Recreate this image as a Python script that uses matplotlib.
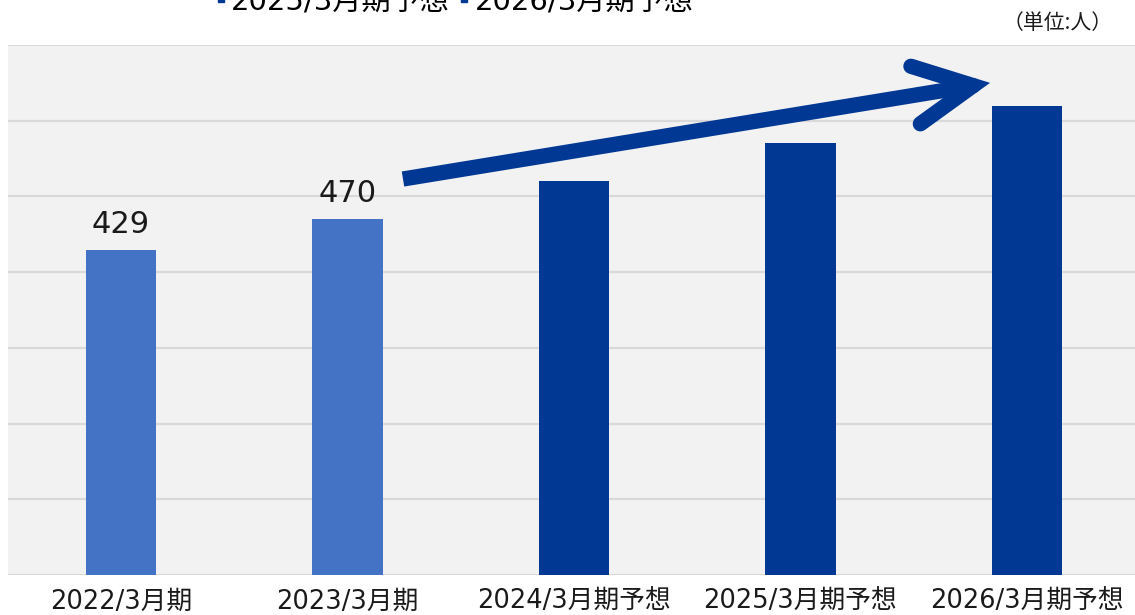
import matplotlib.pyplot as plt
from matplotlib.patches import FancyArrowPatch
from matplotlib.lines import Line2D

periods = ["2022/3月期", "2023/3月期", "2024/3月期予想", "2025/3月期予想", "2026/3月期予想"]
staff = [429, 470, 521, 570, 620]
shown_labels = ["429", "470", "", "", ""]
legend_labels = ["2025/3月期予想", "2026/3月期予想"]

light_blue = "#4472C4"
dark_blue = "#003893"
colors = [light_blue, light_blue, dark_blue, dark_blue, dark_blue]

fams = ["DejaVu Sans", "Noto Sans CJK JP"]
plt.rcParams["font.family"] = fams

fig = plt.figure(figsize=(11.35, 6.15), dpi=100)
ax = fig.add_axes([8 / 1135, 40 / 615, 1127 / 1135, 530 / 615])
ax.set_facecolor("#F2F2F2")

x = list(range(len(periods)))
ax.bar(x, staff, width=0.31, color=colors, zorder=3)

for xi, v, lab in zip(x, staff, shown_labels):
    if lab:
        ax.annotate(lab, (xi, v), xytext=(0, 8), textcoords="offset points",
                    ha="center", va="bottom", fontsize=22, color="#1a1a1a")

ax.set_xlim(-0.499, 4.477)
ax.set_ylim(0, 700)
ax.set_yticks(range(0, 701, 100))
ax.yaxis.grid(True, color="#D9D9D9", linewidth=1.6, zorder=0)
ax.set_axisbelow(True)
ax.tick_params(axis="y", left=False, labelleft=False)
ax.tick_params(axis="x", length=0, pad=10, labelsize=18.5, labelcolor="#1a1a1a")
ax.set_xticks(x)
ax.set_xticklabels(periods)
for s in ax.spines.values():
    s.set_visible(False)

# growth arrow: shaft with square tail, head with rounded wing ends
arrow_start = (1.245, 523)
arrow_tip = (3.837, 650)
t = 0.88
head_base = (arrow_start[0] + t * (arrow_tip[0] - arrow_start[0]),
             arrow_start[1] + t * (arrow_tip[1] - arrow_start[1]))
ax.add_patch(FancyArrowPatch(arrow_start, head_base, arrowstyle="-",
                             color=dark_blue, linewidth=11, capstyle="butt",
                             zorder=5, shrinkA=0, shrinkB=0))
ax.add_patch(FancyArrowPatch(head_base, arrow_tip,
                             arrowstyle="->, head_length=4.2, head_width=2.1",
                             mutation_scale=10, color=dark_blue, linewidth=11,
                             capstyle="round", joinstyle="miter",
                             zorder=5, shrinkA=0, shrinkB=0))

handles = [Line2D([], [], marker="s", linestyle="none", markersize=5,
                  color=dark_blue) for _ in legend_labels]
fig.legend(handles, legend_labels, loc="center", bbox_to_anchor=(454 / 1135, 1 - 1 / 615),
           ncol=2, frameon=False, fontsize=21, handlelength=0.4,
           handletextpad=0.15, columnspacing=0.3, borderaxespad=0)

fig.text(1058 / 1135, 1 - 23 / 615, "（単位:人）", ha="center", va="center",
         fontsize=15, family=["Noto Sans CJK JP", "DejaVu Sans"], color="#1a1a1a")

fig.savefig("out.png", dpi=100, facecolor="white")
